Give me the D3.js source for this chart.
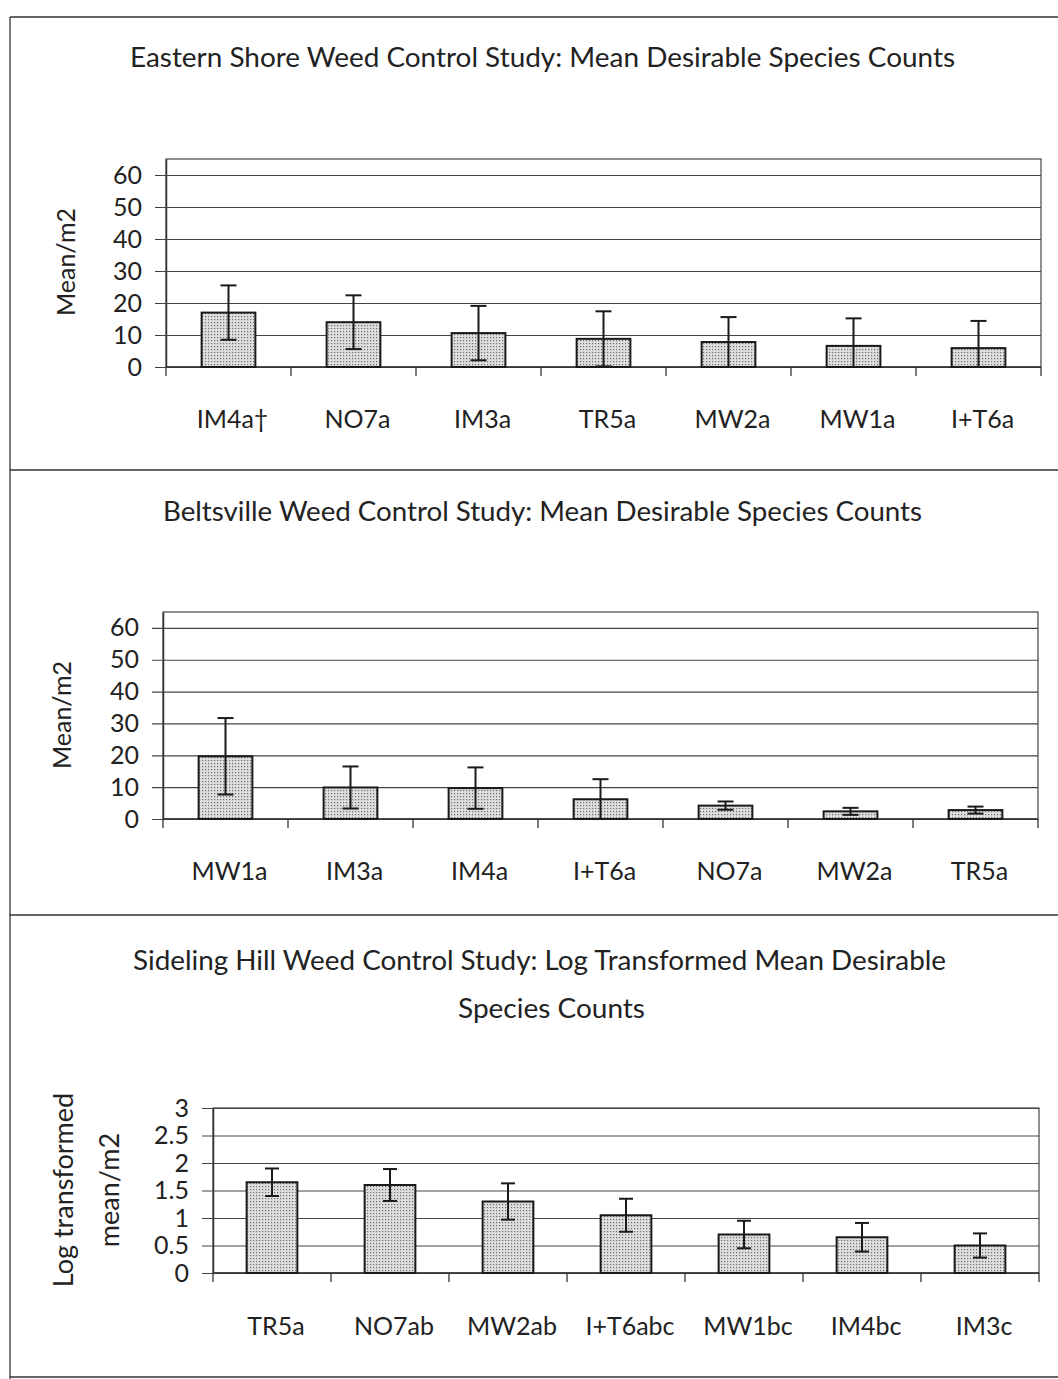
<!DOCTYPE html>
<html>
<head>
<meta charset="utf-8">
<script src="https://cdn.jsdelivr.net/npm/d3@7/dist/d3.min.js"></script>
<style>
  body { margin: 0; background: #fff; }
  svg { display: block; font-family: Lato, "Open Sans", sans-serif; }
</style>
</head>
<body>
<svg id="page" width="1058" height="1379"></svg>
<script>
// Eastern Shore
const esCats = ["IM4a†", "NO7a", "IM3a", "TR5a", "MW2a", "MW1a", "I+T6a"];
const esMeans = [17, 14, 10.6, 8.8, 7.8, 6.6, 5.9];
const esErrs = [8.5, 8.4, 8.5, 8.6, 7.8, 8.6, 8.5];

// Beltsville
const btCats = ["MW1a", "IM3a", "IM4a", "I+T6a", "NO7a", "MW2a", "TR5a"];
const btMeans = [19.7, 9.9, 9.7, 6.2, 4.2, 2.4, 2.8];
const btErrs = [12, 6.6, 6.5, 6.3, 1.3, 1.1, 1.1];

// Sideling Hill (log transformed)
const shCats = ["TR5a", "NO7ab", "MW2ab", "I+T6abc", "MW1bc", "IM4bc", "IM3c"];
const shMeans = [1.65, 1.6, 1.3, 1.05, 0.7, 0.65, 0.5];
const shErrs = [0.25, 0.29, 0.33, 0.3, 0.25, 0.26, 0.22];

const countTicks = [0, 10, 20, 30, 40, 50, 60];
const logTicks = [0, 0.5, 1, 1.5, 2, 2.5, 3];

const svg = d3.select("#page");

const defs = svg.append("defs");
const pat = defs.append("pattern").attr("id", "dots")
    .attr("width", 3).attr("height", 3)
    .attr("patternUnits", "userSpaceOnUse");
pat.append("rect").attr("width", 3).attr("height", 3).attr("fill", "#dedede");
pat.append("rect").attr("x", 1).attr("y", 1).attr("width", 1.2).attr("height", 1.2).attr("fill", "#6e6e6e");

// page frame lines
const frame = svg.append("g").attr("stroke", "#333").attr("stroke-width", 1.3);
frame.append("line").attr("x1", 10).attr("x2", 10).attr("y1", 17).attr("y2", 1379);
[17, 470, 915, 1377].forEach(y => {
    frame.append("line").attr("x1", 10).attr("x2", 1058).attr("y1", y).attr("y2", y);
});

const panels = [
    {
        cats: esCats, means: esMeans, errs: esErrs, ticks: countTicks, max: 65,
        title: ["Eastern Shore Weed Control Study: Mean Desirable Species Counts"],
        titleY: [67], titleX: [[130, 955]],
        ylab: ["Mean/m2"], ylabX: [65], ylabY: 262, ylabSize: 25,
        left: 166, right: 1041, top: 159, zero: 367, labY: 428, cap: 16
    },
    {
        cats: btCats, means: btMeans, errs: btErrs, ticks: countTicks, max: 65,
        title: ["Beltsville Weed Control Study: Mean Desirable Species Counts"],
        titleY: [521], titleX: [[163, 922]],
        ylab: ["Mean/m2"], ylabX: [61], ylabY: 715, ylabSize: 25,
        left: 163, right: 1038, top: 612, zero: 819, labY: 880, cap: 16
    },
    {
        cats: shCats, means: shMeans, errs: shErrs, ticks: logTicks, max: 3,
        title: ["Sideling Hill Weed Control Study: Log Transformed Mean Desirable", "Species Counts"],
        titleY: [970, 1018], titleX: [[133, 946], [458, 645]],
        ylab: ["Log transformed", "mean/m2"], ylabX: [62, 108], ylabY: 1190, ylabSize: 27,
        left: 213, right: 1039, top: 1108, zero: 1273, labY: 1335, cap: 14
    }
];

panels.forEach(p => {
    const g = svg.append("g");
    const w = p.right - p.left;

    const x = d3.scaleBand(p.cats, [p.left, p.right]).padding(0);
    const y = d3.scaleLinear([0, p.max], [p.zero, p.top]);

    p.title.forEach((t, i) => {
        const [x0, x1] = p.titleX[i];
        g.append("text").attr("x", x0).attr("y", p.titleY[i])
            .attr("font-size", 26).attr("fill", "#222")
            .attr("textLength", x1 - x0).attr("lengthAdjust", "spacingAndGlyphs")
            .text(t);
    });

    p.ylab.forEach((t, i) => {
        g.append("text")
            .attr("transform", `translate(${p.ylabX[i]}, ${p.ylabY}) rotate(-90)`)
            .attr("text-anchor", "middle").attr("dominant-baseline", "central")
            .attr("font-size", p.ylabSize).attr("fill", "#222")
            .text(t);
    });

    // plot border
    g.append("rect").attr("x", p.left).attr("y", p.top).attr("width", w).attr("height", p.zero - p.top)
        .attr("fill", "none").attr("stroke", "#444").attr("stroke-width", 1.2);

    // y axis + gridlines
    const yAxis = g.append("g").attr("transform", `translate(${p.left},0)`)
        .call(d3.axisLeft(y).tickValues(p.ticks).tickSizeInner(11).tickSizeOuter(0).tickPadding(13)
            .tickFormat(d => String(d)));
    yAxis.select(".domain").attr("stroke", "#333").attr("stroke-width", 1.5);
    yAxis.selectAll(".tick line").attr("x1", w).attr("stroke", "#444").attr("stroke-width", 1.2);
    yAxis.selectAll(".tick text").attr("font-size", 25).attr("fill", "#222")
        .attr("font-family", "Lato, sans-serif");

    // baseline and category boundary ticks
    g.append("line").attr("x1", p.left).attr("x2", p.right).attr("y1", p.zero).attr("y2", p.zero)
        .attr("stroke", "#333").attr("stroke-width", 1.6);
    d3.range(p.cats.length + 1).forEach(i => {
        const bx = p.left + i * x.step();
        g.append("line").attr("x1", bx).attr("x2", bx).attr("y1", p.zero).attr("y2", p.zero + 9)
            .attr("stroke", "#333").attr("stroke-width", 1.3);
    });

    const bw = x.bandwidth() * 0.43;
    const data = p.cats.map((c, i) => ({ c, m: p.means[i], e: p.errs[i] }));
    const cx = d => x(d.c) + x.bandwidth() / 2;

    g.selectAll("rect.bar").data(data).enter().append("rect").attr("class", "bar")
        .attr("x", d => cx(d) - bw / 2).attr("width", bw)
        .attr("y", d => y(d.m)).attr("height", d => y(0) - y(d.m))
        .attr("fill", "url(#dots)").attr("stroke", "#1a1a1a").attr("stroke-width", 2);

    const eb = g.selectAll("g.err").data(data).enter().append("g").attr("class", "err")
        .attr("stroke", "#1a1a1a").attr("stroke-width", 2);
    eb.append("line").attr("x1", cx).attr("x2", cx)
        .attr("y1", d => y(d.m + d.e)).attr("y2", d => y(Math.max(0, d.m - d.e)));
    eb.append("line").attr("x1", d => cx(d) - p.cap / 2).attr("x2", d => cx(d) + p.cap / 2)
        .attr("y1", d => y(d.m + d.e)).attr("y2", d => y(d.m + d.e));
    eb.filter(d => d.m - d.e > 0).append("line")
        .attr("x1", d => cx(d) - p.cap / 2).attr("x2", d => cx(d) + p.cap / 2)
        .attr("y1", d => y(d.m - d.e)).attr("y2", d => y(d.m - d.e));

    g.selectAll("text.cat").data(data).enter().append("text").attr("class", "cat")
        .attr("x", d => cx(d) + 4).attr("y", p.labY)
        .attr("text-anchor", "middle").attr("font-size", 25).attr("fill", "#222")
        .text(d => d.c);
});
</script>
</body>
</html>
